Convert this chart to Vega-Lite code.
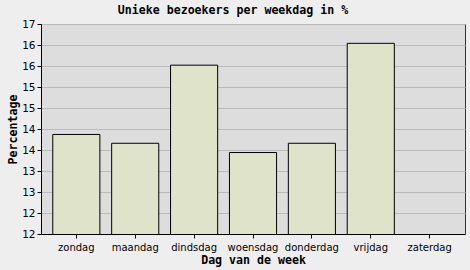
{
  "$schema": "https://vega.github.io/schema/vega-lite/v6.json",
  "autosize": "none",
  "width": 424,
  "height": 210,
  "padding": {"left": 41, "top": 24, "right": 5, "bottom": 36},
  "background": "#EEEEEE",
  "config": {
    "view": {"fill": "#DDDDDD", "stroke": "#333333", "strokeWidth": 1},
    "axis": {
      "labelFont": "DejaVu Sans",
      "labelFontSize": 10,
      "labelColor": "#000000",
      "titleFont": "DejaVu Sans Mono",
      "titleFontWeight": "bold",
      "titleFontSize": 11.6,
      "titleColor": "#000000",
      "domainColor": "#000000",
      "tickColor": "#000000",
      "tickSize": 4
    }
  },
  "title": {
    "text": "Unieke bezoekers per weekdag in %",
    "font": "DejaVu Sans Mono",
    "fontWeight": "bold",
    "fontSize": 11.6,
    "color": "#000000",
    "anchor": "middle",
    "dx": -20,
    "offset": 2
  },
  "data": {
    "values": [
      {"dag": "zondag", "pct": 14.37},
      {"dag": "maandag", "pct": 14.16},
      {"dag": "dindsdag", "pct": 16.02},
      {"dag": "woensdag", "pct": 13.94},
      {"dag": "donderdag", "pct": 14.16},
      {"dag": "vrijdag", "pct": 16.54},
      {"dag": "zaterdag", "pct": 0}
    ]
  },
  "mark": {"type": "bar", "fill": "#DEE3CA", "stroke": "#000000", "strokeWidth": 1, "clip": true},
  "encoding": {
    "x": {
      "field": "dag",
      "type": "nominal",
      "sort": null,
      "scale": {"paddingInner": 0.2, "paddingOuter": 0.2},
      "axis": {"title": "Dag van de week", "labelAngle": 0, "labelPadding": 4, "titlePadding": 2, "grid": false}
    },
    "y": {
      "field": "pct",
      "type": "quantitative",
      "scale": {"domain": [12, 17], "nice": false, "zero": false},
      "axis": {
        "title": "Percentage",
        "values": [12, 12.5, 13, 13.5, 14, 14.5, 15, 15.5, 16, 16.5, 17],
        "labelExpr": "floor(datum.value)",
        "labelPadding": 2,
        "labelFontSize": 10.5,
        "titlePadding": 3,
        "grid": true,
        "gridColor": "#BBBBBB",
        "gridWidth": 1
      }
    }
  }
}
